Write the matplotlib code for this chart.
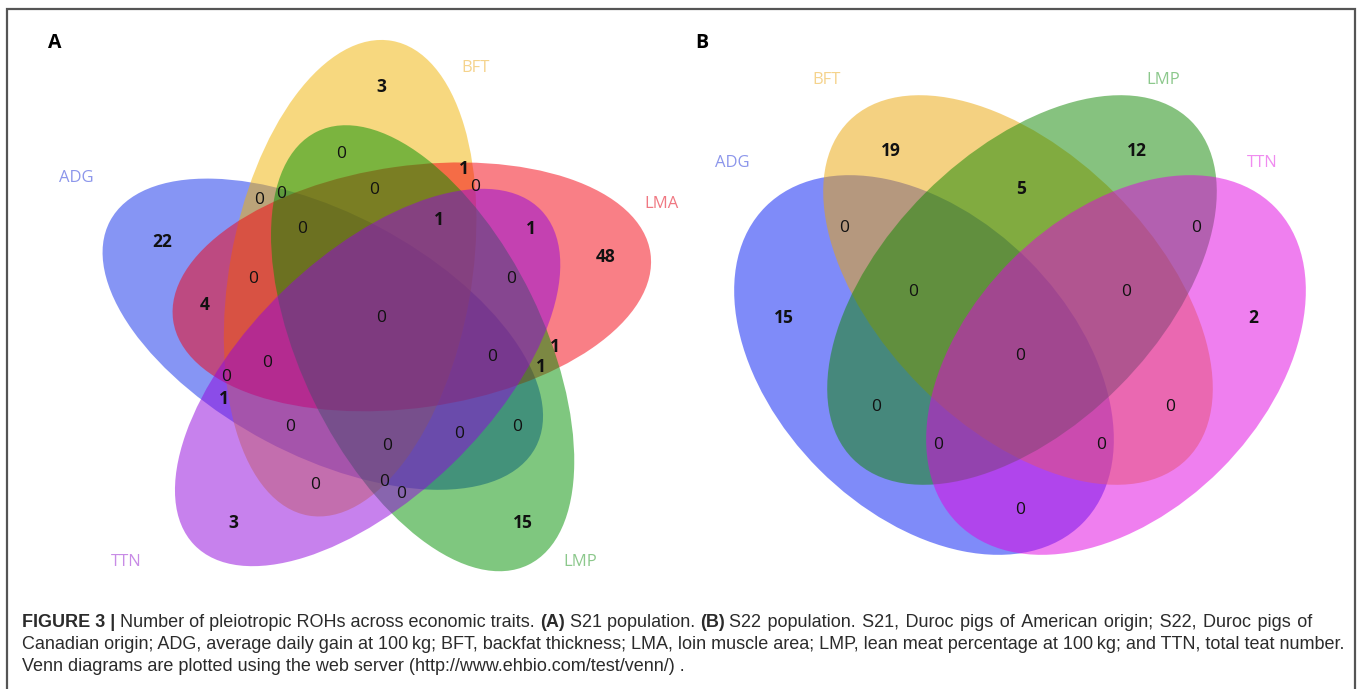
import numpy as np
import matplotlib
matplotlib.use("Agg")
import matplotlib.pyplot as plt
from matplotlib.patches import Ellipse

W, H = 1358, 689

# ---- data -------------------------------------------------------------
sets_a = ["ADG", "BFT", "LMA", "LMP", "TTN"]
counts_a = [3, 0, 1, 0, 0, 0, 0, 1, 22, 1, 48, 0, 0, 0,
            4, 0, 1, 0, 1, 0, 0, 1, 0, 0, 0, 0, 0, 0, 0, 3, 15]

sets_b = ["ADG", "BFT", "LMP", "TTN"]
counts_b = [19, 12, 5, 0, 0, 0, 0, 15, 2, 0, 0, 0, 0, 0, 0]

# ---- layout (pixels) ---------------------------------------------------
pos_a = [(381, 87), (341, 154), (464, 169), (475, 187), (259, 200), (281, 194),
         (374, 190), (439, 220), (162, 242), (531, 229), (606, 257), (302, 229),
         (253, 279), (511, 279), (205, 305), (381, 318), (555, 347), (492, 357),
         (541, 367), (267, 363), (226, 377), (224, 399), (290, 427), (387, 446),
         (459, 434), (517, 427), (315, 485), (384, 482), (401, 494), (233, 523),
         (523, 523)]
pos_b = [(891, 151), (1137, 151), (1021, 189), (844, 228), (1196, 228),
         (913, 292), (1126, 292), (784, 318), (1253, 318), (1020, 356),
         (876, 407), (1170, 407), (938, 445), (1101, 445), (1020, 510)]

fill_a = {"ADG": "#0f2deb", "BFT": "#f1b300", "LMA": "#f5010f",
          "LMP": "#019101", "TTN": "#9105dd"}
name_a = {"ADG": "#8c96eb", "BFT": "#f5d38c", "LMA": "#f07882",
          "LMP": "#8cc88c", "TTN": "#c88ce6"}
lab_a = {"ADG": (76, 178), "BFT": (476, 68), "LMA": (662, 204),
         "LMP": (580, 562), "TTN": (126, 562)}

fill_b = {"ADG": "#0119f5", "BFT": "#eba505", "LMP": "#0f8700", "TTN": "#e100e1"}
name_b = {"ADG": "#8c96eb", "BFT": "#f5d38c", "LMP": "#8cc88c", "TTN": "#f08cf0"}
lab_b = {"ADG": (732, 163), "BFT": (827, 80), "LMP": (1163, 80), "TTN": (1262, 163)}

VFONT = ["Open Sans", "DejaVu Sans"]
CFONT = ["Liberation Sans", "DejaVu Sans"]
CFS = 12.95
CCOL = "#2b2b2b"

fig = plt.figure(figsize=(W / 100, H / 100), dpi=100)
ax = fig.add_axes([0, 0, 1, 1])
ax.set_xlim(0, W); ax.set_ylim(H, 0); ax.axis("off")

# frame
ax.plot([7, 7, 1355, 1355], [H + 5, 9, 9, H + 5], color="#555555", lw=1.6,
        solid_joinstyle="miter")

# ---- panel A: five ellipses ------------------------------------------
C = np.array([375.0, 325.0]); d = 53; a_ax = 241; b_ax = 121
rot = {"LMA": 8, "BFT": 80, "ADG": 152, "TTN": 224, "LMP": 296}
for name in ["ADG", "BFT", "LMA", "LMP", "TTN"]:
    phi = rot[name]; psi = np.radians(phi + 38)
    cx = C[0] + d * np.cos(psi); cy = C[1] - d * np.sin(psi)
    ax.add_patch(Ellipse((cx, cy), 2 * a_ax, 2 * b_ax, angle=-phi,
                         facecolor=fill_a[name], alpha=0.5, lw=0))
for name in sets_a:
    x, y = lab_a[name]
    ax.text(x, y, name, color=name_a[name], fontsize=12, family=VFONT,
            ha="center", va="center")
for v, (x, y) in zip(counts_a, pos_a):
    ax.text(x, y, str(v), fontsize=12.5, family=VFONT, ha="center", va="center",
            color="#111111", fontweight="bold" if v else "normal")

# ---- panel B: four ellipses ------------------------------------------
ell_b = {"ADG": ((924, 365), 224, 148, 135), "BFT": ((1018, 290), 239, 137, 135),
         "LMP": ((1022, 290), 239, 137, 45), "TTN": ((1116, 365), 224, 148, 45)}
for name in ["ADG", "BFT", "LMP", "TTN"]:
    (cx, cy), aa, bb, phi = ell_b[name]
    ax.add_patch(Ellipse((cx, cy), 2 * aa, 2 * bb, angle=-phi,
                         facecolor=fill_b[name], alpha=0.5, lw=0))
for name in sets_b:
    x, y = lab_b[name]
    ax.text(x, y, name, color=name_b[name], fontsize=12, family=VFONT,
            ha="center", va="center")
for v, (x, y) in zip(counts_b, pos_b):
    ax.text(x, y, str(v), fontsize=12.5, family=VFONT, ha="center", va="center",
            color="#111111", fontweight="bold" if v else "normal")

ax.text(55, 43, "A", fontsize=14, fontweight="bold", family=VFONT, ha="center", va="center")
ax.text(702, 43, "B", fontsize=14, fontweight="bold", family=VFONT, ha="center", va="center")

# ---- caption -----------------------------------------------------------
def chain(pieces, x, y, fs=CFS):
    prev = None
    for txt, bold in pieces:
        kw = dict(fontsize=fs, family=CFONT, color=CCOL,
                  fontweight="bold" if bold else "normal")
        if prev is None:
            prev = ax.text(x, y, txt, ha="left", va="baseline", **kw)
        else:
            prev = ax.annotate(txt, xy=(1, 0), xycoords=prev, ha="left",
                               va="bottom", annotation_clip=False, **kw)

HS = " \u200a"   # slightly wider gap, the printed line is justified
tail = HS.join("S22 population. S21, Duroc pigs of American origin; S22, Duroc pigs of".split(" "))
line1 = [("FIGURE 3 |", True),
         (" Number of pleiotropic ROHs across economic traits. ", False),
         ("(A)", True), (" S21 population. ", False), ("(B)", True), (" " + tail, False)]
chain(line1, 22, 627)
ax.text(22, 649, "Canadian origin; ADG, average daily gain at 100\u2009kg; BFT, backfat thickness; "
        "LMA, loin muscle area; LMP, lean meat percentage at 100\u2009kg; and TTN, total teat number.",
        fontsize=CFS, family=CFONT, color=CCOL, va="baseline")
ax.text(22, 671, "Venn diagrams are plotted using the web server (http://www.ehbio.com/test/venn/) .",
        fontsize=CFS, family=CFONT, color=CCOL, va="baseline")

fig.savefig("out.png", dpi=100)
